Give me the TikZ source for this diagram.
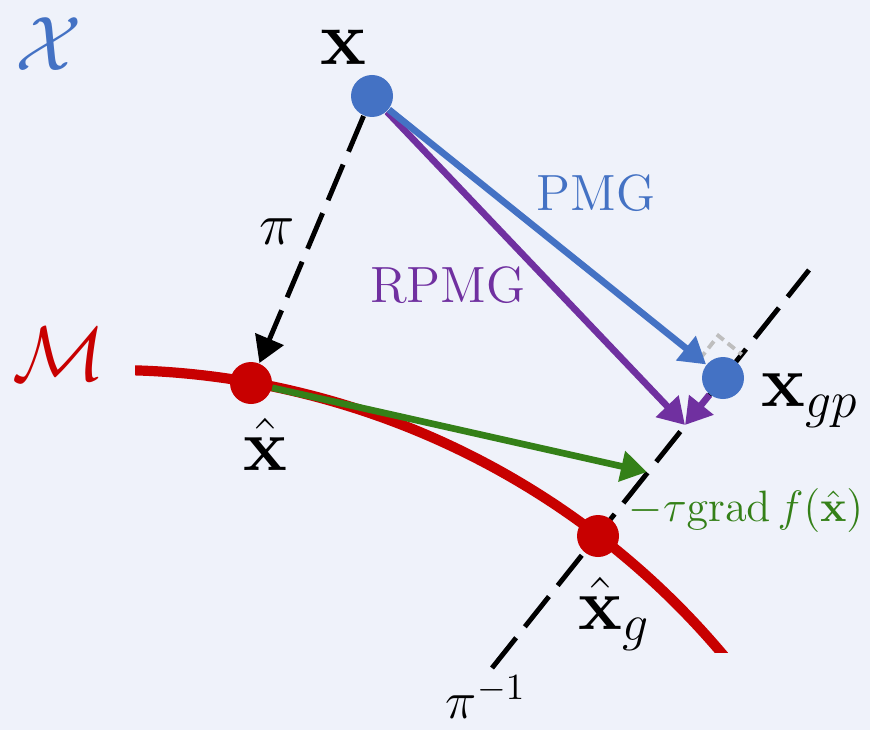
\RequirePackage{fix-cm}
\documentclass[tikz,border=0pt]{standalone}
\usepackage{amsmath,amssymb,bm}
\usetikzlibrary{arrows.meta}
\definecolor{bgcol}{RGB}{239,242,250}
\definecolor{pmgblue}{RGB}{68,114,196}
\definecolor{mfred}{RGB}{200,0,0}
\definecolor{rpmgpurple}{RGB}{112,48,160}
\definecolor{gradgreen}{RGB}{52,128,24}
\definecolor{markgrey}{RGB}{190,190,190}

\begin{document}
\begin{tikzpicture}[
    dot/.style={circle,fill=#1,inner sep=0pt,minimum size=4.2mm},
    lbl/.style={inner sep=0pt,font=\fontsize{#1}{#1}\selectfont},
    lbl/.default=21,
    arr/.style={line width=1.9pt,-{Triangle[length=2.6mm,width=3mm]}},
    fiber/.style={line width=1.4pt,dash pattern=on 11pt off 4pt}
  ]
                    \fill[bgcol] (0,0) rectangle (8.7,7.3);
                    \useasboundingbox (0,0) rectangle (8.7,7.3);
                    \coordinate (c) at (1.11,-4.40);
                    \coordinate (fb) at (4.92,0.62);
                    \coordinate (ft) at (8.09,4.60);
                    \coordinate (p) at (6.85,3.05);
                    \coordinate (g) at (6.47,2.58);
                    % fibre and manifold
                    \draw[fiber] (fb) -- (ft);
                    \begin{scope}
                      \clip (1.35,0.78) rectangle (8.7,7.3);
                      \draw[mfred,line width=2.9pt] (c) ++(95:8) arc[start angle=95,end angle=35,radius=8];
                    \end{scope}
                    \node[dot=pmgblue] (x) at (3.72,6.34) {};
                    \node[dot=mfred] (xh) at (2.51,3.47) {};
                    \node[dot=mfred] (xg) at (5.98,1.94) {};
                    \node[dot=pmgblue] (xgp) at (7.23,3.52) {};
                    % right angle
                    \draw[markgrey,line width=1.1pt,dash pattern=on 2.5pt off 1.5pt] (xgp.center) ++(-0.234,0.188) -- ++(0.187,0.235) -- ++(0.234,-0.188);
                    % steps
                    \draw[arr,rpmgpurple] (x) -- (p);
                    \draw[arr,rpmgpurple] (xgp) -- (p);
                    \draw[arr,pmgblue] (x) -- (xgp);
                    \draw[arr,gradgreen] (xh) -- (g);
                    \draw[arr,fiber] (x) -- (xh);
                    % labels
                    \node[lbl=22,pmgblue] (Xlbl) at (0.49,6.86) {$\mathcal{X}$};
                    \node[lbl=22] (xlbl) at (3.43,6.83) {$\mathbf{x}$};
                    \node[lbl=22,mfred] (Mlbl) at (0.59,3.76) {$\mathcal{M}$};
                    \node[lbl] (xhlbl) at (2.65,2.86) {$\hat{\mathbf{x}}$};
                    \node[lbl] (xglbl) at (6.14,1.16) {$\hat{\mathbf{x}}_g$};
                    \node[lbl] (xgplbl) at (8.10,3.29) {$\mathbf{x}_{gp}$};
                    \node[lbl=14.5,pmgblue] (pmg) at (5.96,5.37) {PMG};
                    \node[lbl=14.5,rpmgpurple] (rpmg) at (4.48,4.45) {RPMG};
                    \node[lbl=17] (pilbl) at (2.77,4.98) {$\pi$};
                    \node[lbl=15] (piinv) at (4.86,0.33) {$\pi^{-1}$};
                    \node[lbl=12.5,gradgreen] (gradlbl) at (7.46,2.19) {$-\tau\mathrm{grad}\,f(\hat{\mathbf{x}})$};
                \end{tikzpicture}
\end{document}
